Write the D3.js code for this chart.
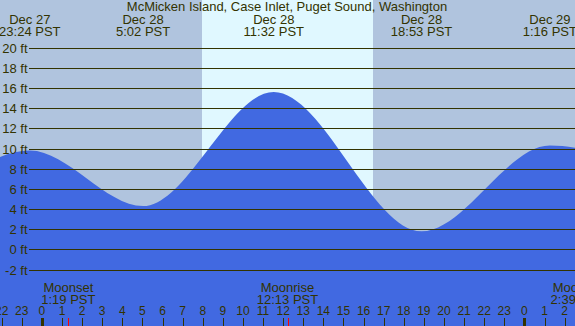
<!DOCTYPE html>
<html><head><meta charset="utf-8">
<script src="https://cdn.jsdelivr.net/npm/d3@7"></script>
<style>html,body{margin:0;padding:0;overflow:hidden;background:#b0c4de}svg{display:block}</style>
</head><body>
<script>
// ---- data ----
const title = "McMicken Island, Case Inlet, Puget Sound, Washington";
const tideTimes = ["2023-12-27 17:09","2023-12-27 23:24","2023-12-28 05:02","2023-12-28 11:32","2023-12-28 18:53","2023-12-29 01:16","2023-12-29 08:20"];
const tideHeights = [1.6, 9.8, 4.3, 15.6, 1.8, 10.3, 5.2];
const moonEvents = ["Moonset","Moonrise","Moonset"];
const moonTimes = ["2023-12-28 01:19","2023-12-28 12:13","2023-12-29 02:39"];
const sunriseTimes = ["2023-12-28 07:57"];
const sunsetTimes = ["2023-12-28 16:28"];
const viewStart = "2023-12-27 21:55";
const viewEnd = "2023-12-29 02:31";
const yTicks = [-2,0,2,4,6,8,10,12,14,16,18,20];

// ---- setup ----
const W = 575, H = 326;
const parse = d3.timeParse("%Y-%m-%d %H:%M");
const FONT = "'Liberation Sans', Arial, sans-serif";
const INK = "#333300";
const svg = d3.select("body").append("svg").attr("width", W).attr("height", H)
  .style("font-family", FONT).style("font-size", "13px");

const x = d3.scaleTime().domain([parse(viewStart), parse(viewEnd)]).range([0, W]);
const y = d3.scaleLinear().domain([-2, 20]).range([269.7, 47.5]);

// background night + day
svg.append("rect").attr("width", W).attr("height", H).attr("fill", "#b0c4de");
svg.selectAll("rect.day").data(sunriseTimes.map((s, i) => [parse(s), parse(sunsetTimes[i])]))
  .enter().append("rect").attr("class", "day")
  .attr("x", d => x(d[0])).attr("y", 0)
  .attr("width", d => x(d[1]) - x(d[0])).attr("height", H)
  .attr("fill", "#e0f8ff").attr("shape-rendering", "crispEdges");

// tide area
const tide = tideTimes.map((t, i) => ({t: parse(t), h: tideHeights[i]}));
const area = d3.area().x(d => x(d.t)).y0(H).y1(d => y(d.h)).curve(d3.curveMonotoneX);
svg.append("path").datum(tide).attr("d", area).attr("fill", "#4169e1");

// grid lines + y labels
svg.selectAll("line.grid").data(yTicks).enter().append("line")
  .attr("x1", 29).attr("x2", W).attr("y1", d => Math.round(y(d)) + 0.5).attr("y2", d => Math.round(y(d)) + 0.5)
  .attr("stroke", INK).attr("stroke-width", 1).attr("shape-rendering", "crispEdges");
svg.selectAll("text.ylab").data(yTicks).enter().append("text")
  .attr("x", 27.5).attr("y", d => Math.round(y(d)) + 4.5).attr("text-anchor", "end")
  .attr("fill", INK).text(d => d + " ft");

// title
svg.append("text").attr("x", 287).attr("y", 11).attr("text-anchor", "middle").attr("fill", INK).text(title);

// extreme labels (visible ones)
const fDate = d3.timeFormat("%b %d"), fTime = d3.timeFormat("%-H:%M");
const visibleTide = tide.filter(d => d.t >= x.domain()[0] && d.t <= x.domain()[1]);
const hg = svg.selectAll("g.ext").data(visibleTide).enter().append("g")
  .attr("transform", d => `translate(${x(d.t)},0)`);
hg.append("text").attr("y", 24).attr("text-anchor", "middle").attr("fill", INK).text(d => fDate(d.t));
hg.append("text").attr("y", 36).attr("text-anchor", "middle").attr("fill", INK).text(d => fTime(d.t) + " PST");

// moon labels
const moon = moonTimes.map((t, i) => ({t: parse(t), name: moonEvents[i]}));
const mg = svg.selectAll("g.moon").data(moon).enter().append("g")
  .attr("transform", d => `translate(${x(d.t)},0)`);
mg.append("text").attr("y", 292).attr("text-anchor", "middle").attr("fill", INK).text(d => d.name);
mg.append("text").attr("y", 304).attr("text-anchor", "middle").attr("fill", INK).text(d => fTime(d.t) + " PST");

// hour axis
const hours = d3.timeHour.range(d3.timeHour.ceil(x.domain()[0]), x.domain()[1]);
svg.selectAll("text.hr").data(hours).enter().append("text")
  .attr("x", d => x(d)).attr("y", 315).attr("text-anchor", "middle").attr("fill", INK)
  .style("font-size", "12px")
  .text(d => d3.timeFormat("%-H")(d));
svg.selectAll("rect.tick").data(hours).enter().append("rect")
  .attr("x", d => d.getHours() === 0 ? Math.round(x(d)) - 1.5 : Math.round(x(d)) - 0.5)
  .attr("y", 318).attr("width", d => d.getHours() === 0 ? 3 : 1).attr("height", 8)
  .attr("fill", INK).attr("shape-rendering", "crispEdges");
svg.selectAll("rect.mtick").data(moon).enter().append("rect")
  .attr("x", d => Math.round(x(d.t)) - 0.5).attr("y", 318).attr("width", 1).attr("height", 8)
  .attr("fill", "#ff0000").attr("shape-rendering", "crispEdges");
</script>
</body></html>
